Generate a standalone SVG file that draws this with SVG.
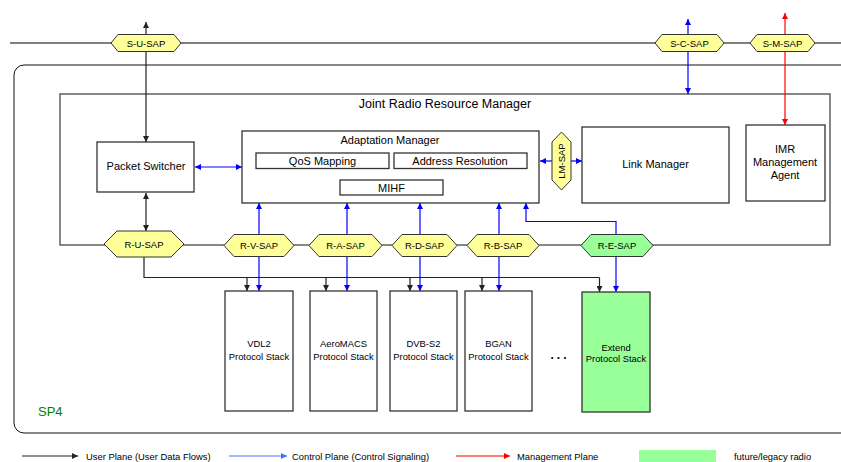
<svg xmlns="http://www.w3.org/2000/svg" width="841" height="462" viewBox="0 0 841 462">
<defs>
<style>
text{font-family:"Liberation Sans",Arial,sans-serif;fill:#000}
.box{fill:#fff;stroke:#333;stroke-width:1.3}
.frame{fill:none;stroke:#555;stroke-width:1.4}
.sap{fill:#ffff99;stroke:#333;stroke-width:1}
.sapg{fill:#99ff99;stroke:#333;stroke-width:1}
.lbl{font-size:11px;text-anchor:middle}
.sl{font-size:9.5px;text-anchor:middle}
.st{font-size:9.4px;text-anchor:middle}
.lg{font-size:9.4px}
.u{fill:none;stroke:#222;stroke-width:1.2}
.c{fill:none;stroke:#0000ff;stroke-width:1.2}
.m{fill:none;stroke:#ff0000;stroke-width:1.2}
</style>
<marker id="ak" viewBox="0 0 10 10" refX="10" refY="5" markerWidth="6" markerHeight="6" markerUnits="userSpaceOnUse" orient="auto-start-reverse"><path d="M0,0 L10,5 L0,10 z" fill="#222"/></marker>
<marker id="ab" viewBox="0 0 10 10" refX="10" refY="5" markerWidth="6" markerHeight="6" markerUnits="userSpaceOnUse" orient="auto-start-reverse"><path d="M0,0 L10,5 L0,10 z" fill="#0000ff"/></marker>
<marker id="ar" viewBox="0 0 10 10" refX="10" refY="5" markerWidth="6" markerHeight="6" markerUnits="userSpaceOnUse" orient="auto-start-reverse"><path d="M0,0 L10,5 L0,10 z" fill="#ff0000"/></marker>
<marker id="al" viewBox="0 0 10 10" refX="10" refY="5" markerWidth="6" markerHeight="6" markerUnits="userSpaceOnUse" orient="auto"><path d="M0,0 L10,5 L0,10 z" fill="#4477ff"/></marker>
</defs>

<g id="background">
<rect x="14" y="65" width="840" height="368" rx="10" fill="none" stroke="#111" stroke-width="1"/>
<line x1="10" y1="43" x2="841" y2="43" stroke="#555" stroke-width="1.4"/>
<text x="38" y="416" font-size="13" style="fill:#008000">SP4</text>
</g>

<g id="jrrm">
<rect class="frame" x="60" y="94" width="770" height="151"/>
<text x="445" y="108" font-size="12.5" text-anchor="middle">Joint Radio Resource Manager</text>
</g>

<g id="connectors">
<line class="u" x1="146" y1="142" x2="146" y2="22" marker-start="url(#ak)" marker-end="url(#ak)"/>
<line class="c" x1="688" y1="94" x2="688" y2="19" marker-start="url(#ab)" marker-end="url(#ab)"/>
<line class="m" x1="785" y1="125" x2="785" y2="13" marker-start="url(#ar)" marker-end="url(#ar)"/>
<line class="c" x1="195" y1="167" x2="242" y2="167" marker-start="url(#ab)" marker-end="url(#ab)"/>
<line class="c" x1="552" y1="161" x2="540" y2="161" marker-end="url(#ab)"/>
<line class="c" x1="571" y1="161" x2="582" y2="161" marker-end="url(#ab)"/>
<line class="u" x1="146" y1="193" x2="146" y2="231" marker-start="url(#ak)" marker-end="url(#ak)"/>
<path class="u" d="M144,257 V277.5 H599.5"/>
<line class="u" x1="247" y1="277.5" x2="247" y2="291" marker-end="url(#ak)"/>
<line class="u" x1="326" y1="277.5" x2="326" y2="291" marker-end="url(#ak)"/>
<line class="u" x1="410" y1="277.5" x2="410" y2="291" marker-end="url(#ak)"/>
<line class="u" x1="482" y1="277.5" x2="482" y2="291" marker-end="url(#ak)"/>
<line class="u" x1="599.5" y1="277.5" x2="599.5" y2="292" marker-end="url(#ak)"/>
<line class="c" x1="259" y1="203" x2="259" y2="291" marker-start="url(#ab)" marker-end="url(#ab)"/>
<line class="c" x1="347" y1="203" x2="347" y2="291" marker-start="url(#ab)" marker-end="url(#ab)"/>
<line class="c" x1="420" y1="203" x2="420" y2="291" marker-start="url(#ab)" marker-end="url(#ab)"/>
<line class="c" x1="499" y1="203" x2="499" y2="291" marker-start="url(#ab)" marker-end="url(#ab)"/>
<path class="c" d="M526,203 V221.5 H616 V292" marker-start="url(#ab)" marker-end="url(#ab)"/>
</g>

<g id="s-u-sap"><polygon class="sap" points="111,43 118,34.5 174,34.5 181,43 174,51.5 118,51.5"/><text class="sl" x="146" y="46.5">S-U-SAP</text></g>
<g id="s-c-sap"><polygon class="sap" points="655,43 662,34.5 717,34.5 724,43 717,51.5 662,51.5"/><text class="sl" x="689.5" y="46.5">S-C-SAP</text></g>
<g id="s-m-sap"><polygon class="sap" points="750,43 757,34.5 808,34.5 815,43 808,51.5 757,51.5"/><text class="sl" x="782.5" y="46.5">S-M-SAP</text></g>

<g id="packet-switcher"><rect class="box" x="97" y="142" width="97" height="50"/><text class="lbl" x="146" y="170">Packet Switcher</text></g>

<g id="adaptation-manager">
<rect class="box" x="242" y="131" width="297" height="72"/>
<text class="lbl" x="390" y="144">Adaptation Manager</text>
<rect class="box" x="256" y="153" width="133" height="15.5"/><text class="lbl" x="322.5" y="165">QoS Mapping</text>
<rect class="box" x="394" y="153" width="133" height="15.5"/><text class="lbl" x="460" y="165">Address Resolution</text>
<rect class="box" x="340" y="180" width="103" height="15"/><text class="lbl" x="391.5" y="191.5">MIHF</text>
</g>

<g id="lm-sap"><polygon class="sap" points="561.5,132 571,142 571,180 561.5,190 552,180 552,142"/><text class="sl" transform="translate(565,161) rotate(-90)">LM-SAP</text></g>

<g id="link-manager"><rect class="box" x="582" y="127" width="147" height="76"/><text class="lbl" x="655.5" y="168">Link Manager</text></g>

<g id="imr-agent"><rect class="box" x="746" y="125" width="79" height="76"/>
<text class="lbl" x="785" y="153">IMR</text><text class="lbl" x="785" y="166">Management</text><text class="lbl" x="785" y="179">Agent</text></g>

<g id="r-u-sap"><polygon class="sap" points="104,244 117,231 171,231 184,244 171,257 117,257"/><text class="sl" x="144" y="247.5">R-U-SAP</text></g>
<g id="r-v-sap"><polygon class="sap" points="224,245.5 234,234.5 284,234.5 294,245.5 284,256.5 234,256.5"/><text class="sl" x="259" y="249">R-V-SAP</text></g>
<g id="r-a-sap"><polygon class="sap" points="309,245.5 319,234.5 372,234.5 382,245.5 372,256.5 319,256.5"/><text class="sl" x="345.5" y="249">R-A-SAP</text></g>
<g id="r-d-sap"><polygon class="sap" points="392,245.5 402,234.5 447,234.5 457,245.5 447,256.5 402,256.5"/><text class="sl" x="424.5" y="249">R-D-SAP</text></g>
<g id="r-b-sap"><polygon class="sap" points="467,245.5 477,234.5 529,234.5 539,245.5 529,256.5 477,256.5"/><text class="sl" x="503" y="249">R-B-SAP</text></g>
<g id="r-e-sap"><polygon class="sapg" points="581,245.5 591,234.5 643,234.5 653,245.5 643,256.5 591,256.5"/><text class="sl" x="617" y="249">R-E-SAP</text></g>

<g id="vdl2"><rect class="box" x="225" y="291" width="68" height="120"/><text class="st" x="259" y="347">VDL2</text><text class="st" x="259" y="360">Protocol Stack</text></g>
<g id="aeromacs"><rect class="box" x="310" y="291" width="67" height="120"/><text class="st" x="343.5" y="347">AeroMACS</text><text class="st" x="343.5" y="360">Protocol Stack</text></g>
<g id="dvb-s2"><rect class="box" x="390" y="291" width="67" height="120"/><text class="st" x="423.5" y="347">DVB-S2</text><text class="st" x="423.5" y="360">Protocol Stack</text></g>
<g id="bgan"><rect class="box" x="465" y="291" width="67" height="120"/><text class="st" x="498.5" y="347">BGAN</text><text class="st" x="498.5" y="360">Protocol Stack</text></g>
<text x="560" y="359" font-size="12" text-anchor="middle" letter-spacing="3" font-weight="bold">...</text>
<g id="extend"><rect x="582" y="292" width="68" height="120" fill="#99ff99" stroke="#333" stroke-width="1.3"/><text class="st" x="616" y="350.5">Extend</text><text class="st" x="616" y="361.5">Protocol Stack</text></g>

<g id="legend">
<line x1="22" y1="456" x2="78" y2="456" stroke="#222" stroke-width="1.2" marker-end="url(#ak)"/>
<text class="lg" x="86" y="459.5">User Plane (User Data Flows)</text>
<line x1="229" y1="456" x2="287" y2="456" stroke="#4477ff" stroke-width="1.2" marker-end="url(#al)"/>
<text class="lg" x="292" y="459.5">Control Plane (Control Signaling)</text>
<line x1="456" y1="456" x2="510" y2="456" stroke="#ff0000" stroke-width="1.2" marker-end="url(#ar)"/>
<text class="lg" x="517" y="459.5">Management Plane</text>
<rect x="639" y="450" width="77" height="12" fill="#99ff99"/>
<text class="lg" x="734" y="459.5">future/legacy radio</text>
</g>
</svg>
